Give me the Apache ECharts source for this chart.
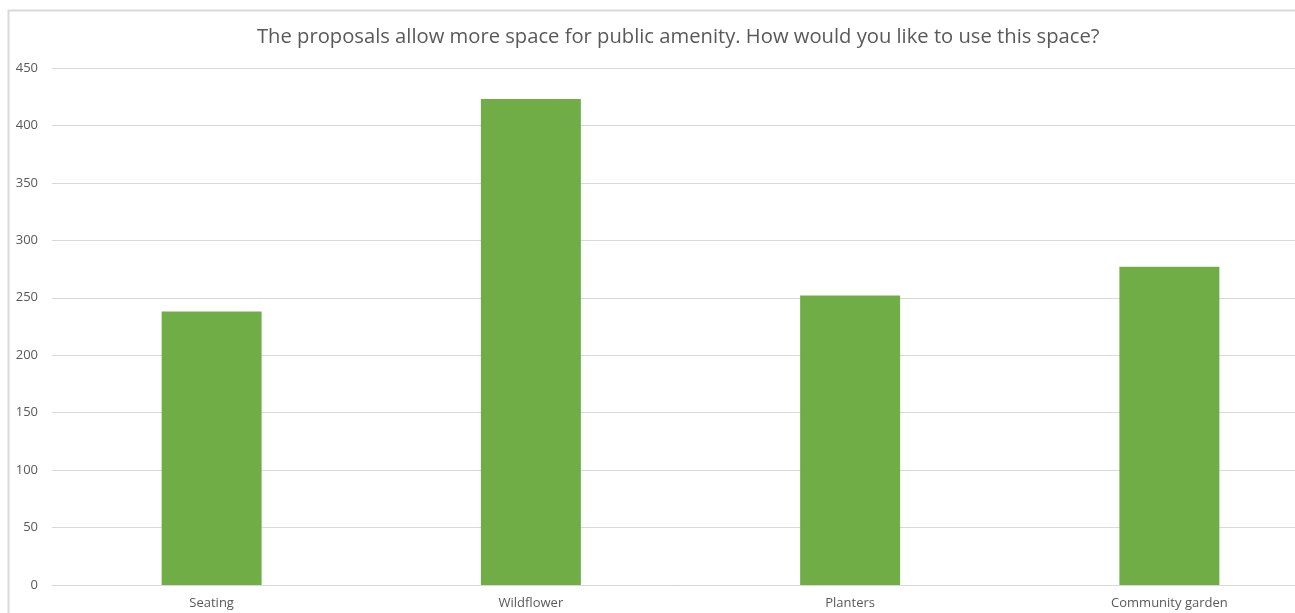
<!DOCTYPE html>
<html>
<head>
<meta charset="utf-8">
<script src="https://cdn.jsdelivr.net/npm/echarts@6/dist/echarts.min.js"></script>
<style>html,body{margin:0;padding:0;background:#fff;}#c{width:1295px;height:613px;}</style>
</head>
<body>
<div id="c"></div>
<script>
const titleText = 'The proposals allow more space for public amenity. How would you like to use this space?';
const categories = ['Seating', 'Wildflower', 'Planters', 'Community garden'];
const values = [238, 423, 252, 277];
const yTicks = { min: 0, max: 450, interval: 50 };

const chart = echarts.init(document.getElementById('c'), null, { renderer: 'canvas' });
const font = '"Open Sans", sans-serif';
chart.setOption({
  animation: false,
  backgroundColor: '#ffffff',
  title: {
    text: titleText,
    left: 252, top: 22,
    textStyle: { fontFamily: font, fontSize: 20.2, fontWeight: 'normal', color: '#595959' }
  },
  graphic: [{
    type: 'rect', left: 6, top: 8, silent: true,
    shape: { x: 0, y: 0, width: 1288, height: 620 },
    style: { fill: null, stroke: '#d9d9d9', lineWidth: 2 }
  }],
  grid: { left: 52, width: 1277, top: 68, bottom: 28, containLabel: false, outerBoundsMode: 'none' },
  xAxis: {
    type: 'category', data: categories,
    axisLine: { lineStyle: { color: '#d9d9d9' } },
    axisTick: { show: false },
    axisLabel: { color: '#595959', fontFamily: font, fontSize: 13, margin: 12 }
  },
  yAxis: {
    type: 'value', min: yTicks.min, max: yTicks.max, interval: yTicks.interval,
    axisLine: { show: false }, axisTick: { show: false },
    splitLine: { lineStyle: { color: '#d9d9d9' } },
    axisLabel: { color: '#595959', fontFamily: font, fontSize: 13, margin: 14 }
  },
  series: [{
    type: 'bar', data: values, barWidth: 100,
    itemStyle: { color: '#70ad47' }
  }]
});
</script>
</body>
</html>
